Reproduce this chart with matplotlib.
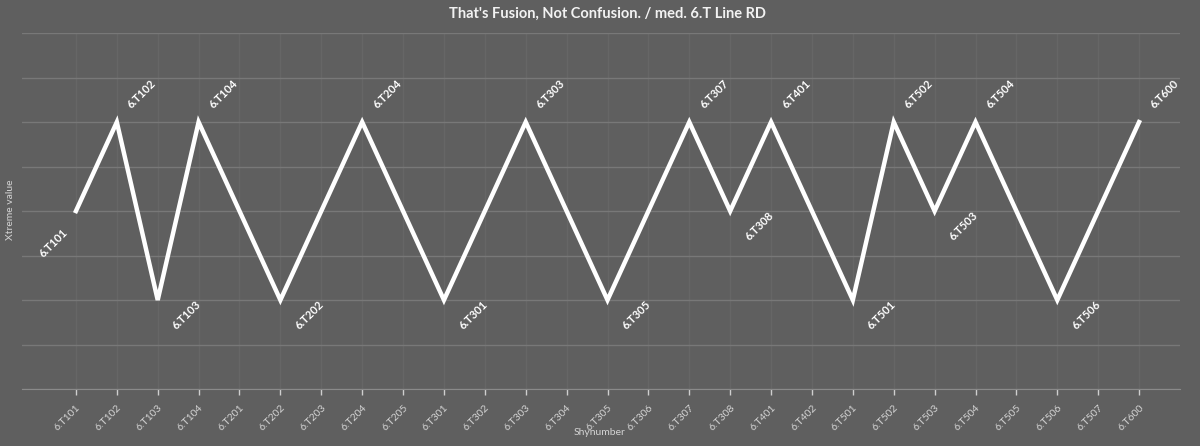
import numpy as np
import matplotlib
matplotlib.use("Agg")
import matplotlib.pyplot as plt

# x axis categories
categories = ["6.T101", "6.T102", "6.T103", "6.T104", "6.T201", "6.T202", "6.T203",
              "6.T204", "6.T205", "6.T301", "6.T302", "6.T303", "6.T304", "6.T305",
              "6.T306", "6.T307", "6.T308", "6.T401", "6.T402", "6.T501", "6.T502",
              "6.T503", "6.T504", "6.T505", "6.T506", "6.T507", "6.T600"]

# the series only has values on some of the categories
point_cats = ["6.T101", "6.T102", "6.T103", "6.T104", "6.T202", "6.T204", "6.T301",
              "6.T303", "6.T305", "6.T307", "6.T308", "6.T401", "6.T501", "6.T502",
              "6.T503", "6.T504", "6.T506", "6.T600"]
point_vals = [2, 3, 1, 3, 1, 3, 1, 3, 1, 3, 2, 3, 1, 3, 2, 3, 1, 3]

title = "That's Fusion, Not Confusion. / med. 6.T Line RD"

BG = "#5f5f5f"
plt.rcParams['font.family'] = ['Lato', 'DejaVu Sans']

fig = plt.figure(figsize=(12, 4.46), dpi=100, facecolor=BG)
ax = fig.add_axes([0.0183, 0.1278, 0.965, 0.798])
ax.set_facecolor(BG)

xs = [categories.index(c) for c in point_cats]
ax.plot(xs, point_vals, color="white", lw=3.2, solid_joinstyle="miter", zorder=3)

# point labels
for i, (x, v, lab) in enumerate(zip(xs, point_vals, point_cats)):
    if i == 0:
        off, ha = (-7, -14), "right"
    elif v == max(point_vals):
        off, ha = (9, 11), "left"
    else:
        off, ha = (12, -20), "left"
    ax.annotate(lab, (x, v), xytext=off, textcoords="offset points",
                rotation=45, rotation_mode="anchor", ha=ha, va="center",
                color="white", fontsize=8, fontweight="bold", zorder=4)

ax.set_xlim(-1.32, 27)
ax.set_ylim(0, 4)
ax.set_yticks(np.arange(0, 4.01, 0.5))
ax.set_yticklabels([])
ax.tick_params(axis="y", length=0)
ax.set_xticks(range(len(categories)))
ax.set_xticklabels(categories, rotation=45, ha="right", rotation_mode="anchor",
                   fontsize=7.5, color="#d4d4d4")
ax.tick_params(axis="x", length=4, width=1, color="#cfcfcf", pad=6)

ax.grid(axis="y", color="#787878", lw=1)
ax.grid(axis="x", color="#666666", lw=1)
ax.set_axisbelow(True)
for s in ["top", "right", "left"]:
    ax.spines[s].set_visible(False)
ax.spines["bottom"].set_color("#8a8a8a")

fig.text(0.5, 0.031, "Shynumber", ha="center", va="center", fontsize=7.5,
         color="#d4d4d4")
fig.text(0.009, 0.53, "Xtreme value", ha="center", va="center", rotation=90,
         fontsize=7.5, color="#d4d4d4")
fig.text(0.506, 0.968, title, ha="center", va="center", fontsize=10.5,
         fontweight="bold", color="#f2f2f2")

fig.savefig("out.png", dpi=100, facecolor=BG)
